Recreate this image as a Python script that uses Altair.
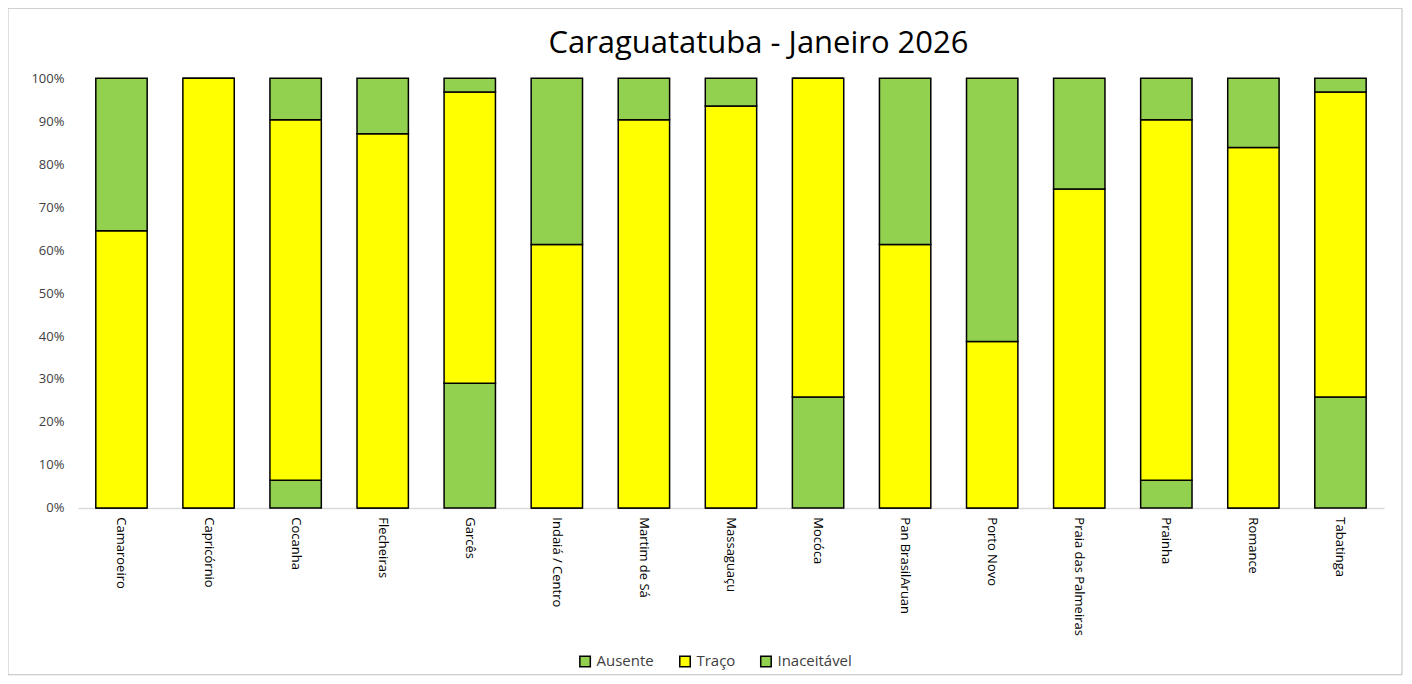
import altair as alt
import pandas as pd

titulo = "Caraguatatuba - Janeiro 2026"
praias = ["Camaroeiro", "Capricórnio", "Cocanha", "Flecheiras", "Garcês",
          "Indaiá / Centro", "Martim de Sá", "Massaguaçu", "Mocóca",
          "Pan BrasilAruan", "Porto Novo", "Praia das Palmeiras", "Prainha",
          "Romance", "Tabatinga"]
# days (out of 31) in each class
ausente = [0, 0, 2, 0, 9, 0, 0, 0, 8, 0, 0, 0, 2, 0, 8]
traco = [20, 31, 26, 27, 21, 19, 28, 29, 23, 19, 12, 23, 26, 26, 22]
inaceitavel = [11, 0, 3, 4, 1, 12, 3, 2, 0, 12, 19, 8, 3, 5, 1]

classes = ["Ausente", "Traço", "Inaceitável"]
cores = ["#92D050", "#FFFF00", "#92D050"]

rows = []
for i, p in enumerate(praias):
    for k, (c, vals) in enumerate(zip(classes, [ausente, traco, inaceitavel])):
        rows.append({"Praia": p, "Classe": c, "Dias": vals[i], "ordem": k})
df = pd.DataFrame(rows)

FONT = "Open Sans"

bars = alt.Chart(df).mark_bar(stroke="black", strokeWidth=1.5).encode(
    x=alt.X("Praia:N", sort=praias, title=None,
            scale=alt.Scale(paddingInner=0.41, paddingOuter=0.205),
            axis=alt.Axis(labelAngle=90, labelAlign="left", labelBaseline="middle",
                          labelPadding=9, ticks=False, domainColor="#d9d9d9",
                          domainWidth=1.5, labelFontSize=13, labelColor="#000000",
                          labelFont=FONT, labelLimit=200)),
    y=alt.Y("Dias:Q", stack="normalize", title=None,
            scale=alt.Scale(domain=[0, 1]),
            axis=alt.Axis(format="%", values=[i / 10 for i in range(11)], grid=False,
                          ticks=False, domain=False, labelPadding=14,
                          labelFontSize=13, labelColor="#404040", labelFont=FONT)),
    color=alt.Color("Classe:N", sort=classes,
                    scale=alt.Scale(domain=classes, range=cores),
                    legend=alt.Legend(title=None, orient="none", legendX=500, legendY=576,
                                      direction="horizontal", symbolType="square",
                                      symbolSize=110, symbolStrokeColor="black",
                                      symbolStrokeWidth=1.5, labelFontSize=15,
                                      labelFont=FONT, labelColor="#404040",
                                      columnPadding=22, labelOffset=4)),
    order=alt.Order("ordem:Q", sort="ascending"),
)

frame = alt.Chart(pd.DataFrame({"a": [0]})).mark_rect(
    fill=None, stroke="#bfbfbf", strokeWidth=1, clip=False
).encode(x=alt.value(-70), x2=alt.value(1325), y=alt.value(-70), y2=alt.value(597))

title = alt.Chart(pd.DataFrame({"t": [titulo]})).mark_text(
    font=FONT, fontSize=31, color="#000000", align="center", baseline="alphabetic"
).encode(text="t:N", x=alt.value(681), y=alt.value(-25))

chart = alt.layer(frame, bars, title).properties(
    width=1307, height=430,
    autosize=alt.AutoSizeParams(type="none"),
    padding={"left": 70, "top": 70, "right": 20, "bottom": 168},
).configure_view(stroke=None)

chart.save("out.html", embed_options={"renderer": "svg", "actions": False})
